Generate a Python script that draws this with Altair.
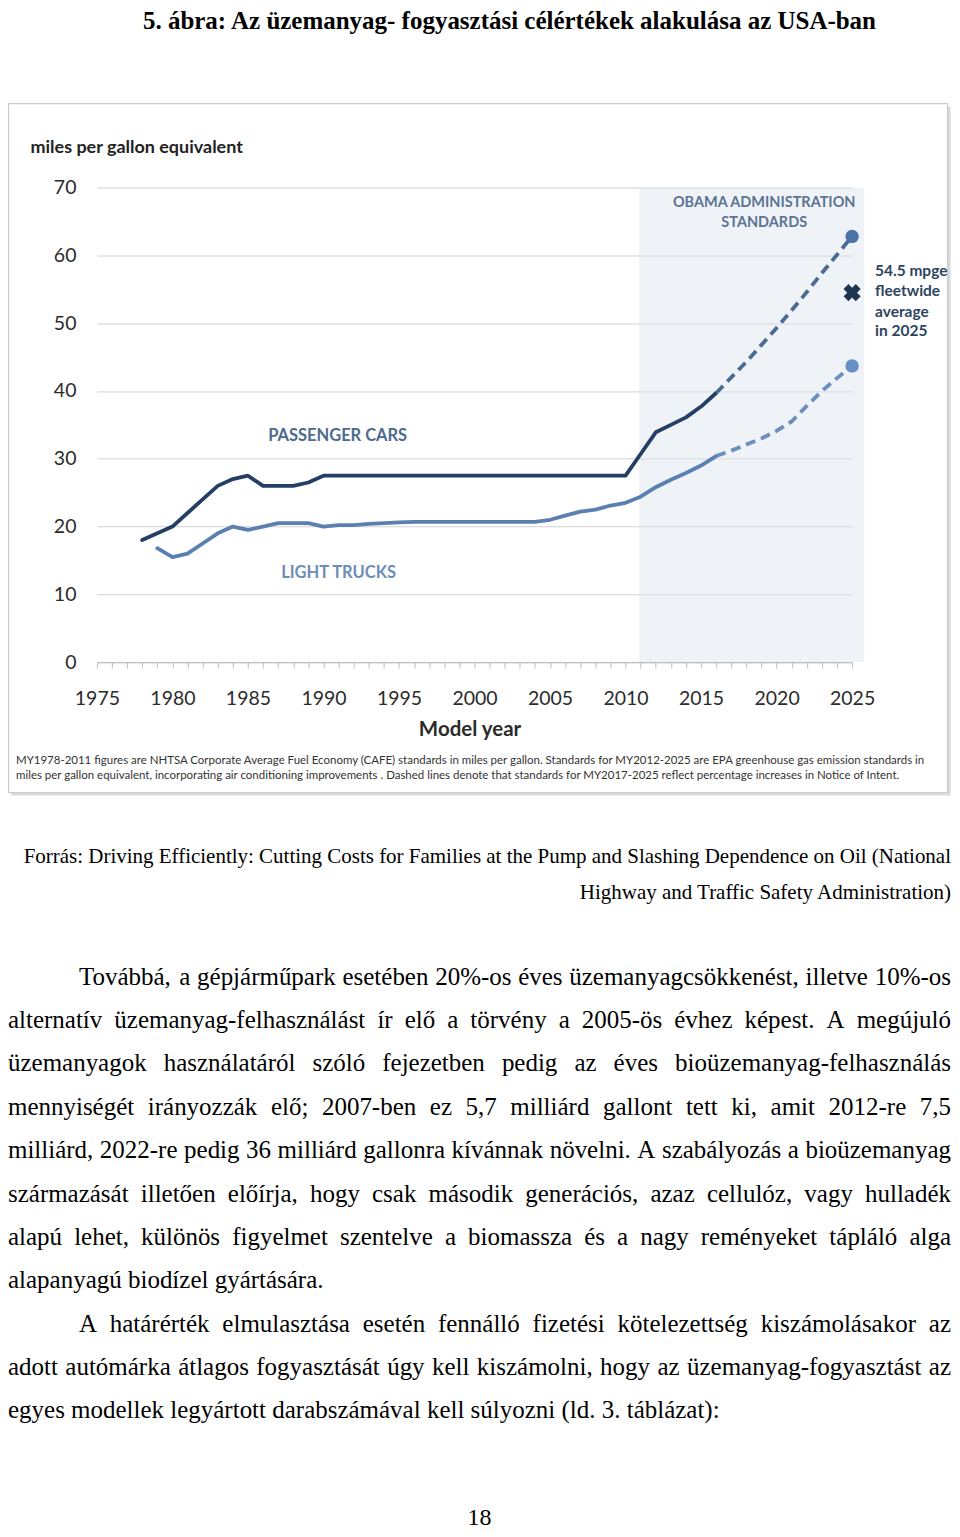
import altair as alt
import pandas as pd

# ------------------------------------------------------------------ data
TITLE = "5. ábra: Az üzemanyag- fogyasztási célértékek alakulása az USA-ban"
Y_TITLE = "miles per gallon equivalent"
X_TITLE = "Model year"

car_years = list(range(1978, 2026))
car_mpg = [18.0, 19.0, 20.0, 22.0, 24.0, 26.0, 27.0, 27.5, 26.0, 26.0, 26.0, 26.5,
           27.5, 27.5, 27.5, 27.5, 27.5, 27.5, 27.5, 27.5, 27.5, 27.5, 27.5,
           27.5, 27.5, 27.5, 27.5, 27.5, 27.5, 27.5, 27.5, 27.5, 27.5,
           30.7, 33.9, 35.0, 36.1, 37.7, 39.7, 42.0, 44.3, 46.8, 49.3, 51.9,
           54.6, 57.4, 60.1, 62.8]

truck_years = list(range(1979, 2026))
truck_mpg = [16.8, 15.5, 16.0, 17.5, 19.0, 20.0, 19.5, 20.0, 20.5, 20.5, 20.5,
             20.0, 20.2, 20.2, 20.4, 20.5, 20.6,
             20.7, 20.7, 20.7, 20.7, 20.7, 20.7, 20.7, 20.7, 20.7,
             21.0, 21.6, 22.2, 22.5, 23.1, 23.5, 24.4, 25.8, 26.9, 27.9, 29.0,
             30.4, 31.2, 32.1, 33.0, 34.1, 35.5, 37.8, 40.0, 41.9, 43.7]

projection_start = 2016          # dashed lines from here on
fleet_year = [2025]
fleet_mpg = [54.5]
standards_period = [2010.9, 2025.8]

x_tick_years = list(range(1975, 2026))
y_tick_values = [0, 10, 20, 30, 40, 50, 60, 70]

label_cars = "PASSENGER CARS"
label_trucks = "LIGHT TRUCKS"
label_obama = ["OBAMA  ADMINISTRATION", "STANDARDS"]
label_fleet = ["54.5 mpge", "fleetwide", "average", "in 2025"]

footnote = [
    "MY1978-2011 figures are NHTSA Corporate Average Fuel Economy (CAFE) standards in miles per gallon.  Standards for MY2012-2025 are EPA greenhouse gas emission  standards in",
    "miles per gallon equivalent, incorporating air conditioning improvements .  Dashed lines denote that standards for MY2017-2025 reflect percentage increases in Notice of Intent.",
]

source_lines = [
    "Forrás: Driving Efficiently: Cutting Costs for Families at the Pump and Slashing Dependence on Oil (National",
    "Highway and Traffic Safety Administration)",
]

# (text, indented, justified)
body_lines = [
    ("Továbbá, a gépjárműpark esetében 20%-os éves üzemanyagcsökkenést, illetve 10%-os", True, True),
    ("alternatív üzemanyag-felhasználást ír elő a törvény a 2005-ös évhez képest. A megújuló", False, True),
    ("üzemanyagok használatáról szóló fejezetben pedig az éves bioüzemanyag-felhasználás", False, True),
    ("mennyiségét irányozzák elő; 2007-ben ez 5,7 milliárd gallont tett ki, amit 2012-re 7,5", False, True),
    ("milliárd, 2022-re pedig 36 milliárd gallonra kívánnak növelni. A szabályozás a bioüzemanyag", False, True),
    ("származását illetően előírja, hogy csak második generációs, azaz cellulóz, vagy hulladék", False, True),
    ("alapú lehet, különös figyelmet szentelve a biomassza és a nagy reményeket tápláló alga", False, True),
    ("alapanyagú biodízel gyártására.", False, False),
    ("A határérték elmulasztása esetén fennálló fizetési kötelezettség kiszámolásakor az", True, True),
    ("adott autómárka átlagos fogyasztását úgy kell kiszámolni, hogy az üzemanyag-fogyasztást az", False, True),
    ("egyes modellek legyártott darabszámával kell súlyozni (ld. 3. táblázat):", False, False),
]
page_number = "18"

# ------------------------------------------------------------------ layout helpers
OX, OY = 97, 187          # page position of the plot origin (1975 / 70 mpg corner)
PW, PH = 756, 475         # plot area size


def rx(page_x):
    return page_x - OX


def ry(page_y):
    return page_y - OY


SERIF = "Liberation Serif"
SANS = "Lato"

# Times-compatible advance widths (per 1000 em) for word placement
W = {' ': 250, ',': 250, '.': 250, '-': 333, '%': 833, ';': 278, ':': 278, '(': 333, ')': 333,
     'A': 722, 'B': 667, 'C': 667, 'D': 722, 'E': 611, 'F': 556, 'G': 722, 'H': 722, 'I': 333,
     'J': 389, 'K': 722, 'L': 611, 'M': 889, 'N': 722, 'O': 722, 'P': 556, 'Q': 722, 'R': 667,
     'S': 556, 'T': 611, 'U': 722, 'V': 722, 'W': 944, 'X': 722, 'Y': 722, 'Z': 611,
     'a': 444, 'b': 500, 'c': 444, 'd': 500, 'e': 444, 'f': 333, 'g': 500, 'h': 500, 'i': 278,
     'j': 278, 'k': 500, 'l': 278, 'm': 778, 'n': 500, 'o': 500, 'p': 500, 'q': 500, 'r': 333,
     's': 389, 't': 278, 'u': 500, 'v': 500, 'w': 722, 'x': 500, 'y': 500, 'z': 444,
     'á': 444, 'é': 444, 'í': 278, 'ó': 500, 'ö': 500, 'ő': 500, 'ú': 500, 'ü': 500, 'ű': 500}


def tw(s, fs):
    return sum(W.get(ch, 500) for ch in s) * fs / 1000.0


BODY_FS = 25
BODY_LEFT, BODY_RIGHT, BODY_INDENT = rx(8), rx(952), rx(79)
BODY_BASE, BODY_LEAD = ry(985), 43.4

left_words, right_words = [], []
for i, (line, indent, justify) in enumerate(body_lines):
    words = line.split(' ')
    widths = [tw(w, BODY_FS) for w in words]
    left = BODY_INDENT if indent else BODY_LEFT
    y = BODY_BASE + i * BODY_LEAD
    if justify and len(words) > 1:
        gap = (BODY_RIGHT - left - sum(widths)) / (len(words) - 1)
    else:
        gap = W[' '] * BODY_FS / 1000.0
    x = left
    for j, (w, wd) in enumerate(zip(words, widths)):
        if justify and j == len(words) - 1:
            right_words.append({'px': BODY_RIGHT, 'py': y, 'text': w})
        else:
            left_words.append({'px': x, 'py': y, 'text': w})
        x += wd + gap

# ------------------------------------------------------------------ scales / axes
x_axis = alt.Axis(values=x_tick_years,
                  labelExpr="datum.value % 5 === 0 ? format(datum.value, 'd') : ''",
                  tickSize=6, tickColor='#bdbdbd', tickWidth=1,
                  domainColor='#bdbdbd', domainWidth=1.2, grid=False,
                  labelFont=SANS, labelFontSize=19.5, labelColor='#2b2b2b', labelPadding=21,
                  labelOverlap=False, labelFlush=False,
                  title=X_TITLE, titleFont=SANS, titleFontSize=20.5, titleFontWeight='bold',
                  titleColor='#2b2b2b', titleX=rx(470), titleY=67, titleAlign='center',
                  titleBaseline='middle')
y_axis = alt.Axis(values=y_tick_values, grid=True, gridColor='#d2d2d2', gridWidth=1,
                  ticks=False, domain=False,
                  labelFont=SANS, labelFontSize=19.5, labelColor='#2b2b2b', labelPadding=21,
                  title=Y_TITLE, titleAngle=0, titleX=rx(30), titleY=ry(147),
                  titleAlign='left', titleBaseline='middle', titleFont=SANS,
                  titleFontSize=18, titleFontWeight='bold', titleColor='#222222')

xs = alt.Scale(domain=[1975, 2025], nice=False, zero=False)
ys = alt.Scale(domain=[0, 70], nice=False, zero=True)
X = alt.X('year:Q', scale=xs, axis=x_axis)
Y = alt.Y('mpg:Q', scale=ys, axis=y_axis)

cars = pd.DataFrame({'year': car_years, 'mpg': car_mpg})
trucks = pd.DataFrame({'year': truck_years, 'mpg': truck_mpg})
one = alt.Data(values=[{}])

# ------------------------------------------------------------------ frame
shadow_b = alt.Chart(one).mark_rule(color='#d9d9d9', strokeWidth=3).encode(
    x=alt.value(rx(11)), x2=alt.value(rx(951)), y=alt.value(ry(794)))
shadow_r = alt.Chart(one).mark_rule(color='#d9d9d9', strokeWidth=3).encode(
    x=alt.value(rx(950)), y=alt.value(ry(106)), y2=alt.value(ry(795)))
frame = alt.Chart(one).mark_rect(fillOpacity=0, stroke='#cccccc', strokeWidth=1.2).encode(
    x=alt.value(rx(8.6)), x2=alt.value(rx(948.5)), y=alt.value(ry(103)), y2=alt.value(ry(792.5)))

# ------------------------------------------------------------------ data layers
shade = alt.Chart(pd.DataFrame({'year': [standards_period[0]], 'year_end': [standards_period[1]],
                                'mpg': [0], 'mpg_top': [70]})).mark_rect(
    color='#dce5f0', opacity=0.45).encode(x=X, x2='year_end:Q', y=Y, y2='mpg_top:Q')

line_kw = dict(strokeWidth=3.8, strokeCap='round', strokeJoin='round')
cars_solid = alt.Chart(cars).mark_line(color='#243f66', **line_kw).encode(x=X, y=Y).transform_filter(
    alt.datum.year <= projection_start)
cars_dash = alt.Chart(cars).mark_line(color='#4b6b93', strokeDash=[10, 6], strokeWidth=3.8).encode(
    x=X, y=Y).transform_filter(alt.datum.year >= projection_start)
trucks_solid = alt.Chart(trucks).mark_line(color='#5a80b2', **line_kw).encode(x=X, y=Y).transform_filter(
    alt.datum.year <= projection_start)
trucks_dash = alt.Chart(trucks).mark_line(color='#6a8ebd', strokeDash=[10, 6], strokeWidth=3.8).encode(
    x=X, y=Y).transform_filter(alt.datum.year >= projection_start)

cars_end = alt.Chart(cars).mark_point(filled=True, size=180, color='#4a74a6', opacity=1).encode(
    x=X, y=Y).transform_filter(alt.datum.year == 2025)
trucks_end = alt.Chart(trucks).mark_point(filled=True, size=180, color='#6690c4', opacity=1).encode(
    x=X, y=Y).transform_filter(alt.datum.year == 2025)
fleet = alt.Chart(pd.DataFrame({'year': fleet_year, 'mpg': fleet_mpg})).mark_point(
    shape='cross', angle=45, filled=True, size=300, color='#1e3552', opacity=1).encode(x=X, y=Y)

# ------------------------------------------------------------------ annotations (data units)
def ann(df, **kw):
    return alt.Chart(pd.DataFrame(df)).mark_text(font=SANS, fontWeight='bold', **kw).encode(
        x=X, y=Y, text='text:N')


ann_cars = ann({'year': [1990.94], 'mpg': [33.3], 'text': [label_cars]},
               fontSize=16.5, color='#4d6b8f', align='center', baseline='middle')
ann_trucks = ann({'year': [1991.0], 'mpg': [13.1], 'text': [label_trucks]},
                 fontSize=16.5, color='#6c8db8', align='center', baseline='middle')
ann_obama = ann({'year': [2019.18, 2019.18], 'mpg': [67.8, 64.84], 'text': label_obama},
                fontSize=14.5, color='#5a7492', align='center', baseline='middle')
ann_fleet = ann({'year': [2026.52] * 4, 'mpg': [57.77, 54.8, 51.7, 48.8], 'text': label_fleet},
                fontSize=15.5, color='#2d4460', align='left', baseline='middle')

# ------------------------------------------------------------------ page texts (pixel layout)
PX = alt.X('px:Q', scale=None, axis=None)
PY = alt.Y('py:Q', scale=None, axis=None)


def ptext(rows, **kw):
    return alt.Chart(pd.DataFrame(rows)).mark_text(**kw).encode(x=PX, y=PY, text='text:N')


foot = ptext([{'px': rx(16), 'py': ry(761), 'text': footnote[0]},
              {'px': rx(16), 'py': ry(776), 'text': footnote[1]}],
             font=SANS, fontSize=11.5, color='#333333', align='left', baseline='middle')
title = ptext([{'px': rx(510), 'py': ry(8), 'text': TITLE}],
              font=SERIF, fontSize=25, fontWeight='bold', color='#000000', align='center',
              baseline='top')
source = ptext([{'px': BODY_RIGHT, 'py': ry(863), 'text': source_lines[0]},
                {'px': BODY_RIGHT, 'py': ry(899), 'text': source_lines[1]}],
               font=SERIF, fontSize=21, color='#000000', align='right', baseline='alphabetic')
body_l = ptext(left_words, font=SERIF, fontSize=BODY_FS, color='#000000', align='left',
               baseline='alphabetic')
body_r = ptext(right_words, font=SERIF, fontSize=BODY_FS, color='#000000', align='right',
               baseline='alphabetic')
pnum = ptext([{'px': rx(480), 'py': ry(1526), 'text': page_number}],
             font=SERIF, fontSize=24, color='#000000', align='center', baseline='alphabetic')

chart = alt.layer(
    shadow_b, shadow_r, frame, shade,
    cars_solid, cars_dash, trucks_solid, trucks_dash,
    cars_end, trucks_end, fleet,
    ann_cars, ann_trucks, ann_obama, ann_fleet,
    foot, title, source, body_l, body_r, pnum,
).properties(width=PW, height=PH, padding=0, background='#ffffff').configure_view(strokeWidth=0)

chart.save("out.html", embed_options={"renderer": "svg", "actions": False})
